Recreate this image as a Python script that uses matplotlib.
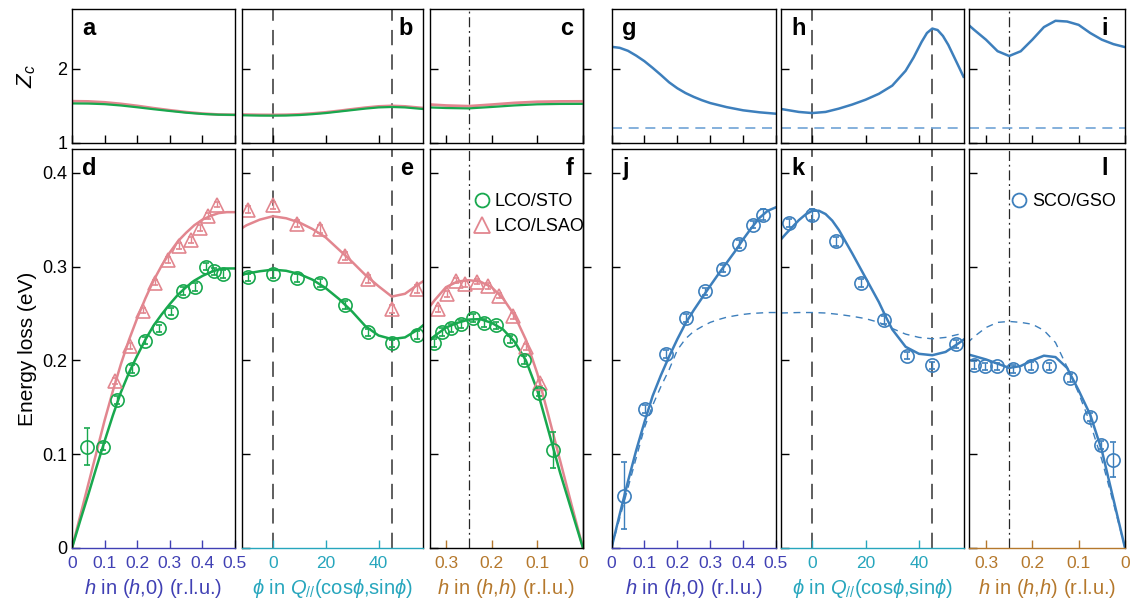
import matplotlib.pyplot as plt
from matplotlib.lines import Line2D

plt.rcParams['font.family'] = ['Liberation Sans', 'DejaVu Sans']
plt.rcParams['mathtext.fontset'] = 'custom'
plt.rcParams['mathtext.rm'] = 'Liberation Sans'
plt.rcParams['mathtext.it'] = 'Liberation Sans:italic'
plt.rcParams['mathtext.bf'] = 'Liberation Sans:bold'
plt.rcParams['mathtext.fallback'] = 'stixsans'
plt.rcParams['axes.linewidth'] = 1.0

GREEN = '#18a84e'
PINK = '#e2868f'
BLUE = '#3d7fbc'
C_H0 = '#4040b4'
C_PHI = '#27a6bd'
C_HH = '#b5782c'

# ---------------- data: Z_c (top row) ----------------
za_h = [0, 0.05, 0.1, 0.15, 0.2, 0.25, 0.3, 0.35, 0.4, 0.45, 0.5]
za_sto = [1.53, 1.528, 1.52, 1.502, 1.478, 1.452, 1.428, 1.405, 1.388, 1.378, 1.375]
za_lsao = [1.56, 1.557, 1.545, 1.524, 1.497, 1.466, 1.438, 1.413, 1.393, 1.38, 1.376]

zb_phi = [-11.7, -5, 0, 5, 10, 15, 20, 25, 30, 35, 40, 45, 50, 56.7]
zb_sto = [1.37, 1.366, 1.365, 1.367, 1.373, 1.385, 1.40, 1.42, 1.44, 1.46, 1.476, 1.482, 1.476, 1.455]
zb_lsao = [1.38, 1.376, 1.375, 1.377, 1.383, 1.395, 1.41, 1.43, 1.452, 1.473, 1.49, 1.497, 1.49, 1.468]

zc_h = [0, 0.05, 0.1, 0.15, 0.2, 0.25, 0.3, 0.336]
zc_sto = [1.524, 1.523, 1.518, 1.503, 1.482, 1.463, 1.468, 1.476]
zc_lsao = [1.558, 1.557, 1.552, 1.537, 1.514, 1.493, 1.502, 1.515]

zg_h = [0, 0.025, 0.05, 0.075, 0.1, 0.125, 0.15, 0.175, 0.2, 0.225, 0.25, 0.275, 0.3, 0.35, 0.4,
        0.45, 0.5]
zg_sco = [2.294, 2.28, 2.24, 2.175, 2.1, 2.01, 1.915, 1.815, 1.735, 1.67, 1.618, 1.573, 1.535, 1.48,
          1.437, 1.41, 1.391]

zh_phi = [-11.7, -5, 0, 5, 10, 15, 20, 25, 30, 35, 38, 41, 43, 45, 47, 49, 51, 53, 55, 56.7]
zh_sco = [1.455, 1.415, 1.40, 1.415, 1.46, 1.515, 1.58, 1.66, 1.77, 1.97, 2.15, 2.36, 2.48, 2.54,
          2.52, 2.44, 2.32, 2.17, 2.02, 1.89]

zi_h = [0, 0.025, 0.05, 0.075, 0.1, 0.125, 0.15, 0.175, 0.2, 0.225, 0.25, 0.275, 0.3, 0.325, 0.336]
zi_sco = [2.29, 2.33, 2.39, 2.48, 2.59, 2.635, 2.645, 2.56, 2.39, 2.234, 2.17, 2.235, 2.39, 2.52, 2.58]

z_ref = 1.2

# ---------------- data: energy loss (bottom row) ----------------
# panel d, (h,0)
d_h_sto = [0.047, 0.094, 0.139, 0.185, 0.224, 0.267, 0.303, 0.339, 0.377, 0.410, 0.436, 0.462]
d_e_sto = [0.108, 0.108, 0.158, 0.191, 0.221, 0.234, 0.252, 0.274, 0.278, 0.300, 0.295, 0.292]
d_err_sto = [0.020, 0.004, 0.004, 0.004, 0.004, 0.004, 0.004, 0.004, 0.004, 0.004, 0.004, 0.004]
d_h_lsao = [0.132, 0.178, 0.217, 0.256, 0.296, 0.329, 0.364, 0.393, 0.418, 0.444]
d_e_lsao = [0.178, 0.215, 0.253, 0.283, 0.307, 0.322, 0.328, 0.341, 0.354, 0.366]
d_err_lsao = [0.003] * 10

fd_h = [0, 0.025, 0.05, 0.075, 0.1, 0.125, 0.15, 0.175, 0.2, 0.225, 0.25, 0.275, 0.3, 0.325,
        0.35, 0.375, 0.4, 0.425, 0.45, 0.475, 0.5]
fd_sto = [0, 0.029, 0.057, 0.086, 0.114, 0.141, 0.166, 0.187, 0.205, 0.222, 0.237, 0.249, 0.260,
          0.270, 0.278, 0.285, 0.290, 0.294, 0.297, 0.298, 0.298]
fd_lsao = [0, 0.034, 0.068, 0.102, 0.136, 0.167, 0.196, 0.222, 0.245, 0.266, 0.285, 0.301, 0.315,
           0.327, 0.336, 0.344, 0.350, 0.354, 0.357, 0.358, 0.358]

# panel e, phi
e_phi = [-9.6, 0, 9.1, 17.7, 27.1, 35.9, 45, 54.6]
e_e_sto = [0.2885, 0.292, 0.288, 0.2825, 0.259, 0.2298, 0.218, 0.2273]
e_e_lsao = [0.3607, 0.3653, 0.3458, 0.340, 0.311, 0.2868, 0.255, 0.276]
e_err = [0.004] * 8

fe_phi = [-11.7, -10, -5, 0, 5, 10, 15, 20, 25, 30, 35, 40, 45, 50, 55, 56.7]
fe_sto = [0.291, 0.2925, 0.295, 0.2967, 0.2955, 0.292, 0.286, 0.277, 0.2655, 0.252, 0.2365,
          0.2265, 0.2227, 0.2245, 0.233, 0.237]
fe_lsao = [0.341, 0.344, 0.350, 0.3536, 0.3515, 0.347, 0.340, 0.331, 0.318, 0.305, 0.291, 0.279,
           0.268, 0.271, 0.281, 0.284]

# panel f, (h,h)
f_h_sto = [0.326, 0.309, 0.290, 0.267, 0.241, 0.217, 0.190, 0.160, 0.130, 0.0974, 0.066]
f_e_sto = [0.2185, 0.230, 0.2345, 0.239, 0.245, 0.240, 0.2373, 0.222, 0.2006, 0.1657, 0.1046]
f_err_sto = [0.004, 0.004, 0.004, 0.004, 0.004, 0.004, 0.004, 0.004, 0.004, 0.004, 0.019]
f_h_lsao = [0.317, 0.2985, 0.278, 0.258, 0.2326, 0.209, 0.183, 0.1536, 0.1244, 0.0937]
f_e_lsao = [0.2547, 0.271, 0.285, 0.2817, 0.284, 0.279, 0.269, 0.247, 0.2142, 0.1758]
f_err_lsao = [0.003] * 10

ff_h = [0, 0.025, 0.05, 0.075, 0.1, 0.125, 0.15, 0.175, 0.2, 0.225, 0.25, 0.275, 0.3, 0.325, 0.336]
ff_sto = [0, 0.04, 0.08, 0.124, 0.168, 0.200, 0.220, 0.233, 0.240, 0.244, 0.2435, 0.240, 0.235,
          0.226, 0.221]
ff_lsao = [0, 0.046, 0.093, 0.14, 0.186, 0.222, 0.248, 0.266, 0.278, 0.284, 0.2855, 0.284, 0.278,
           0.264, 0.257]

# panel j, (h,0)
j_h = [0.0385, 0.101, 0.1667, 0.2264, 0.285, 0.340, 0.388, 0.430, 0.460]
j_e = [0.0559, 0.148, 0.2067, 0.245, 0.2735, 0.2978, 0.324, 0.3447, 0.3554]
j_err = [0.0355, 0.004, 0.004, 0.004, 0.004, 0.004, 0.004, 0.004, 0.006]

fj_h = fd_h
fj_sco = [0, 0.036, 0.071, 0.104, 0.134, 0.162, 0.184, 0.204, 0.2225, 0.2395, 0.2535, 0.2665,
          0.2795, 0.292, 0.304, 0.316, 0.329, 0.341, 0.352, 0.3595, 0.3632]
fj_ref = [0, 0.032, 0.064, 0.096, 0.128, 0.152, 0.172, 0.19, 0.211, 0.223, 0.231, 0.236, 0.2405,
          0.2435, 0.246, 0.2476, 0.249, 0.250, 0.2505, 0.251, 0.251]

# panel k, phi
k_phi = [-8.6, 0, 9.1, 18.1, 26.9, 35.6, 44.8, 53.9]
k_e = [0.3465, 0.3554, 0.327, 0.2825, 0.2433, 0.205, 0.1946, 0.2177]
k_err = [0.004, 0.006, 0.005, 0.004, 0.004, 0.004, 0.004, 0.004]

fk_phi = [-11.7, -10, -7.5, -5, -2.5, 0, 2.5, 5, 7.5, 10, 15, 20, 25, 27.5, 30, 35, 40, 45, 50, 55,
          56.7]
fk_sco = [0.329, 0.3345, 0.342, 0.3495, 0.3555, 0.3595, 0.3595, 0.356, 0.349, 0.339, 0.314, 0.288,
          0.262, 0.247, 0.233, 0.2145, 0.207, 0.2055, 0.209, 0.2185, 0.222]
fk_ref_phi = [-11.7, -5, 0, 5, 10, 15, 20, 25, 30, 35, 40, 45, 50, 56.7]
fk_ref = [0.2505, 0.251, 0.251, 0.2505, 0.249, 0.247, 0.2445, 0.2405, 0.234, 0.228, 0.2245, 0.223,
          0.2245, 0.229]

# panel l, (h,h)
l_h = [0.325, 0.302, 0.2765, 0.242, 0.203, 0.163, 0.1185, 0.0754, 0.0524, 0.0265]
l_e = [0.1953, 0.1935, 0.1935, 0.1907, 0.1942, 0.1935, 0.181, 0.1395, 0.110, 0.0939]
l_err = [0.004, 0.004, 0.004, 0.004, 0.004, 0.004, 0.004, 0.004, 0.004, 0.0187]

fl_h = ff_h
fl_sco = [0, 0.052, 0.104, 0.142, 0.168, 0.192, 0.2035, 0.205, 0.200, 0.194, 0.192, 0.1965, 0.201,
          0.2045, 0.206]
fl_ref = [0, 0.048, 0.094, 0.133, 0.165, 0.193, 0.219, 0.232, 0.2385, 0.2405, 0.2415, 0.2405, 0.235,
          0.2255, 0.2205]

# ---------------- layout ----------------
W, H = 1132, 603
fig = plt.figure(figsize=(W / 100, H / 100), dpi=100)

cols = [(72, 235), (242, 422.7), (429.5, 583), (611.5, 776), (781, 963.5), (969.3, 1125)]
top_row = (9.3, 142.7)
bot_row = (149.3, 548)


def make_ax(col, row):
    x0, x1 = col
    y0, y1 = row
    return fig.add_axes([x0 / W, 1 - y1 / H, (x1 - x0) / W, (y1 - y0) / H])


top = [make_ax(c, top_row) for c in cols]
bot = [make_ax(c, bot_row) for c in cols]

xlims = [(0, 0.5), (-11.7, 56.7), (0.336, 0), (0, 0.5), (-11.7, 56.7), (0.336, 0)]
xticks = [[0, 0.1, 0.2, 0.3, 0.4, 0.5], [0, 20, 40], [0.3, 0.2, 0.1, 0],
          [0, 0.1, 0.2, 0.3, 0.4, 0.5], [0, 20, 40], [0.3, 0.2, 0.1, 0]]
xticklabels = [['0', '0.1', '0.2', '0.3', '0.4', '0.5'], ['0', '20', '40'], ['0.3', '0.2', '0.1', '0'],
               ['0', '0.1', '0.2', '0.3', '0.4', '0.5'], ['0', '20', '40'], ['0.3', '0.2', '0.1', '0']]
xcolors = [C_H0, C_PHI, C_HH, C_H0, C_PHI, C_HH]
spine_colors = [C_H0, C_PHI, 'black', C_H0, C_PHI, C_HH]
xlabels = ['$h$ in ($h$,0) (r.l.u.)', r'$\phi$ in $Q_{//}$(cos$\phi$,sin$\phi$)',
           '$h$ in ($h$,$h$) (r.l.u.)']

for i in range(6):
    for ax in (top[i], bot[i]):
        ax.set_xlim(*xlims[i])
        ax.set_xticks(xticks[i])
        ax.tick_params(direction='in', length=6, width=1)
    # top row
    t = top[i]
    t.set_ylim(1, 2.8)
    t.set_yticks([1, 2])
    t.set_xticklabels([])
    if i == 0:
        t.set_yticklabels(['1', '2'], fontsize=13)
        t.set_ylabel('$Z_c$', fontsize=16, labelpad=14)
    else:
        t.set_yticklabels([])
    # bottom row
    b = bot[i]
    b.set_ylim(0, 0.425)
    b.set_yticks([0, 0.1, 0.2, 0.3, 0.4])
    if i == 0:
        b.set_yticklabels(['0', '0.1', '0.2', '0.3', '0.4'], fontsize=13)
        b.set_ylabel('Energy loss (eV)', fontsize=15, labelpad=4)
    else:
        b.set_yticklabels([])
    b.set_xticklabels(xticklabels[i], fontsize=12.5)
    b.tick_params(axis='x', colors=xcolors[i], pad=6)
    b.spines['bottom'].set_color(spine_colors[i])
    b.set_xlabel(xlabels[i % 3], fontsize=14.5, color=xcolors[i], labelpad=4)

# extra outward ticks on the right side of c and f
for ax, ticks in ((top[2], [2]), (bot[2], [0.1, 0.2, 0.3, 0.4])):
    sec = ax.secondary_yaxis('right')
    sec.set_yticks(ticks)
    sec.tick_params(direction='out', length=6, width=1, labelright=False)

# reference lines
for ax in (top[1], bot[1], top[4], bot[4]):
    for p in (0, 45):
        ax.axvline(p, color='0.2', lw=1.1, dashes=(10, 6), zorder=0)
for ax in (top[2], bot[2], top[5], bot[5]):
    ax.axvline(0.25, color='0.15', lw=0.9, dashes=(8, 3, 1.5, 3), zorder=0)
for ax in top[3:]:
    ax.axhline(z_ref, color='#6fa3d6', lw=1.2, dashes=(6, 4))

# top row curves
top[0].plot(za_h, za_lsao, color=PINK, lw=2)
top[0].plot(za_h, za_sto, color=GREEN, lw=1.6)
top[1].plot(zb_phi, zb_lsao, color=PINK, lw=2)
top[1].plot(zb_phi, zb_sto, color=GREEN, lw=1.6)
top[2].plot(zc_h, zc_lsao, color=PINK, lw=2)
top[2].plot(zc_h, zc_sto, color=GREEN, lw=1.6)
top[3].plot(zg_h, zg_sco, color=BLUE, lw=1.8)
top[4].plot(zh_phi, zh_sco, color=BLUE, lw=1.8)
top[5].plot(zi_h, zi_sco, color=BLUE, lw=1.8)

ebkw = dict(ls='none', mfc='none', mew=1.2, capsize=2.5, elinewidth=1.0, capthick=1.0)


def pts(ax, x, y, err, color, marker):
    ms = 10.5 if marker == '^' else 9.5
    ax.errorbar(x, y, yerr=err, marker=marker, ms=ms, mec=color, ecolor=color, **ebkw)


# bottom row: LCO
bot[0].plot(fd_h, fd_lsao, color=PINK, lw=1.8)
bot[0].plot(fd_h, fd_sto, color=GREEN, lw=1.8)
pts(bot[0], d_h_lsao, d_e_lsao, d_err_lsao, PINK, '^')
pts(bot[0], d_h_sto, d_e_sto, d_err_sto, GREEN, 'o')

bot[1].plot(fe_phi, fe_lsao, color=PINK, lw=1.8)
bot[1].plot(fe_phi, fe_sto, color=GREEN, lw=1.8)
pts(bot[1], e_phi, e_e_lsao, e_err, PINK, '^')
pts(bot[1], e_phi, e_e_sto, e_err, GREEN, 'o')

bot[2].plot(ff_h, ff_lsao, color=PINK, lw=1.8)
bot[2].plot(ff_h, ff_sto, color=GREEN, lw=1.8)
pts(bot[2], f_h_lsao, f_e_lsao, f_err_lsao, PINK, '^')
pts(bot[2], f_h_sto, f_e_sto, f_err_sto, GREEN, 'o')

# bottom row: SCO
bot[3].plot(fj_h, fj_ref, color=BLUE, lw=1.0, dashes=(5, 4))
bot[3].plot(fj_h, fj_sco, color=BLUE, lw=1.8)
pts(bot[3], j_h, j_e, j_err, BLUE, 'o')

bot[4].plot(fk_ref_phi, fk_ref, color=BLUE, lw=1.0, dashes=(5, 4))
bot[4].plot(fk_phi, fk_sco, color=BLUE, lw=1.8)
pts(bot[4], k_phi, k_e, k_err, BLUE, 'o')

bot[5].plot(fl_h, fl_ref, color=BLUE, lw=1.0, dashes=(5, 4))
bot[5].plot(fl_h, fl_sco, color=BLUE, lw=1.8)
pts(bot[5], l_h, l_e, l_err, BLUE, 'o')

# legends
h_sto = Line2D([], [], marker='o', ls='none', mfc='none', mec=GREEN, ms=10, mew=1.3)
h_lsao = Line2D([], [], marker='^', ls='none', mfc='none', mec=PINK, ms=11, mew=1.3)
bot[2].legend([h_sto, h_lsao], ['LCO/STO', 'LCO/LSAO'], loc='upper right', bbox_to_anchor=(1.01, 0.89),
              frameon=False, fontsize=13, handlelength=0.9, handletextpad=0.25, labelspacing=0.45,
              borderpad=0, borderaxespad=0)
h_sco = Line2D([], [], marker='o', ls='none', mfc='none', mec=BLUE, ms=10, mew=1.3)
bot[5].legend([h_sco], ['SCO/GSO'], loc='upper right', bbox_to_anchor=(0.94, 0.89),
              frameon=False, fontsize=13, handlelength=0.9, handletextpad=0.25,
              borderpad=0, borderaxespad=0)

# panel letters
letters_top = ['a', 'b', 'c', 'g', 'h', 'i']
letters_bot = ['d', 'e', 'f', 'j', 'k', 'l']
right_side = {'b', 'c', 'e', 'f', 'i', 'l'}
for axs, letters in ((top, letters_top), (bot, letters_bot)):
    for ax, s in zip(axs, letters):
        if s in right_side:
            dx = -12 if s in ('i', 'l') else -7
            ax.annotate(s, xy=(1, 1), xycoords='axes fraction', xytext=(dx, -18.5),
                        textcoords='offset points', ha='right', va='baseline',
                        fontsize=17, fontweight='bold')
        else:
            ax.annotate(s, xy=(0, 1), xycoords='axes fraction', xytext=(7.5, -18.5),
                        textcoords='offset points', ha='left', va='baseline',
                        fontsize=17, fontweight='bold')

fig.savefig('out.png', dpi=100)
